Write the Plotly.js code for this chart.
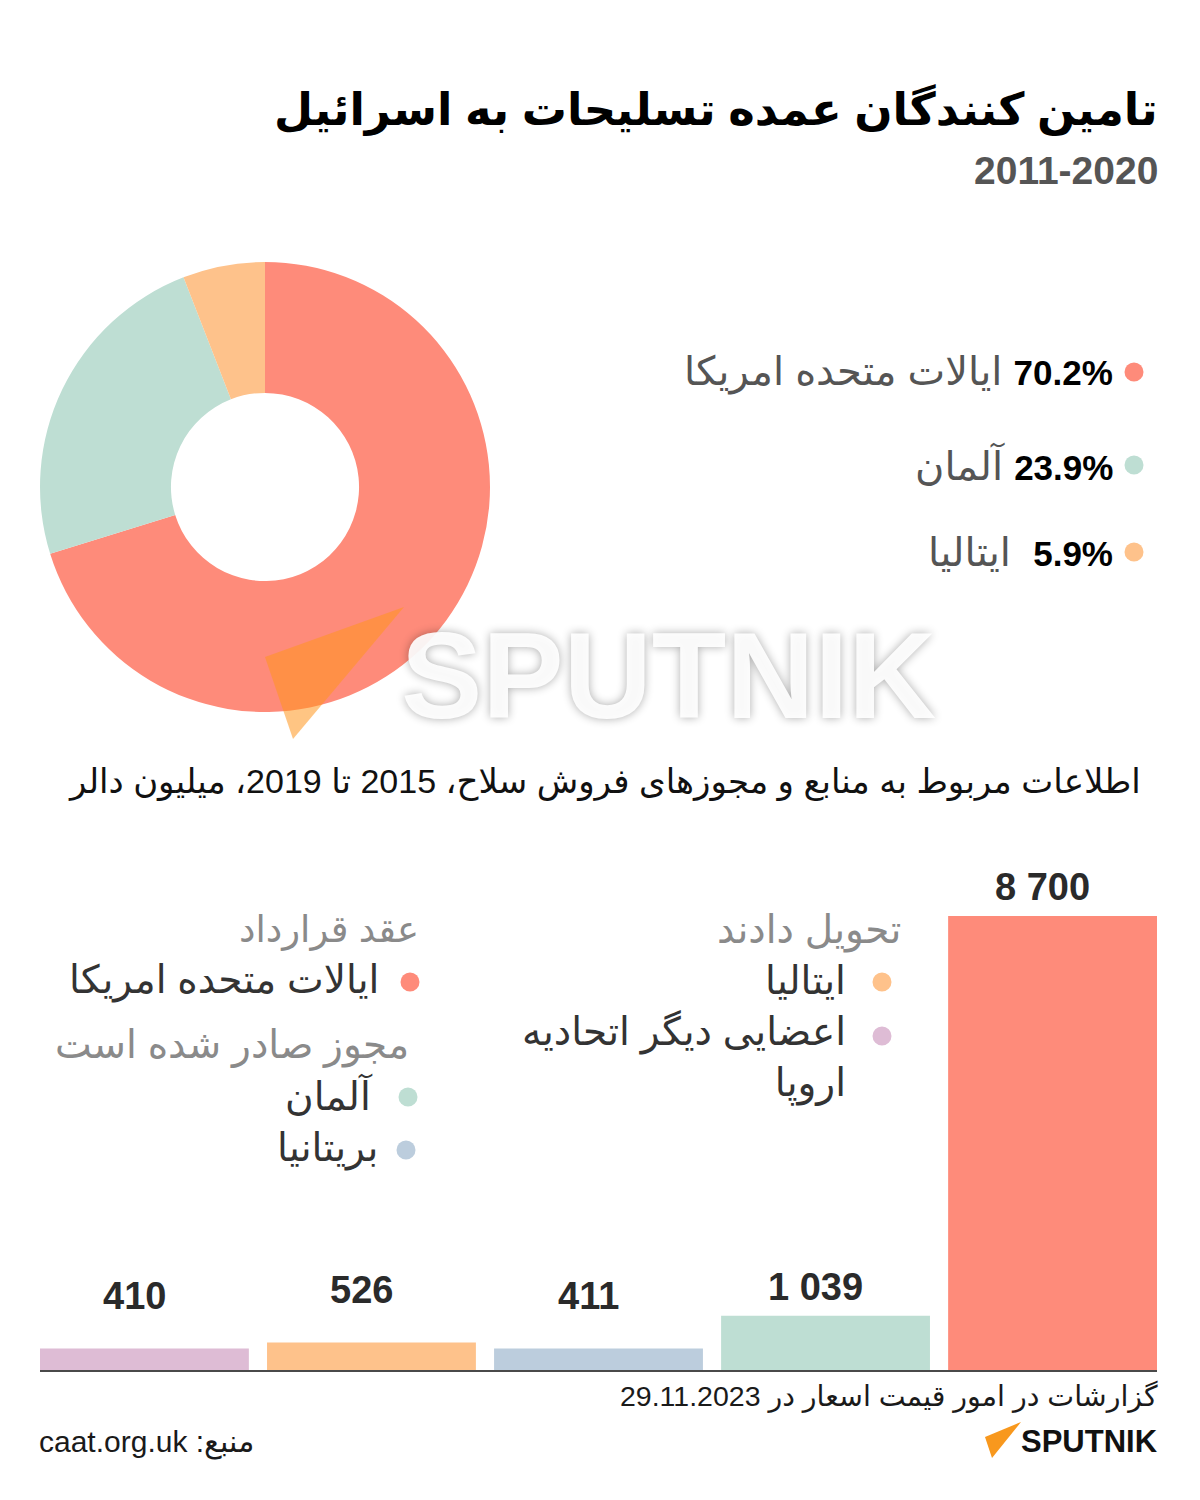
<!DOCTYPE html>
<html>
<head>
<meta charset="utf-8">
<script src="https://cdn.plot.ly/plotly-3.0.1.min.js"></script>
<style>
  html, body { margin: 0; padding: 0; background: #ffffff; }
  #chart { width: 1200px; height: 1500px; }
</style>
</head>
<body>
<div id="chart"></div>
<script>
// ---------- DATA ----------
const pieLabels = ["ایالات متحده امریکا", "آلمان", "ایتالیا"];
const pieShares = [70.2, 23.9, 5.9];
const pieColors = ["#FE8B7A", "#BEDED3", "#FEC28B"];

const barCategories = ["اعضایی دیگر اتحادیه اروپا", "ایتالیا", "بریتانیا", "آلمان", "ایالات متحده امریکا"];
const barValues = [410, 526, 411, 1039, 8700];
const barColors = ["#DEBCD5", "#FEC28B", "#BCCDDD", "#BEDED3", "#FE8B7A"];

const titleText = "تامین کنندگان عمده تسلیحات به اسرائیل";
const subtitleText = "2011-2020";
const barTitleText = "اطلاعات مربوط به منابع و مجوزهای فروش سلاح، 2015 تا 2019، میلیون دالر";
const dateText = "گزارشات در امور قیمت اسعار در 29.11.2023";
const sourceText = "\u202Bمنبع: caat.org.uk\u202C";

// ---------- helpers ----------
const W = 1200, H = 1500;
const px = x => x / W;
const py = y => 1 - y / H;
const fmt = v => String(v).replace(/\B(?=(\d{3})+(?!\d))/g, " ");

const PERSIAN = "'Liberation Sans', 'DejaVu Sans', sans-serif";
const NUM = "'Liberation Sans', Arial, sans-serif";

const annotations = [];
const shapes = [];

function txt(text, x, y, opts) {
  annotations.push(Object.assign({
    text: text, xref: "paper", yref: "paper", x: px(x), y: py(y),
    showarrow: false, xanchor: "right", yanchor: "middle", align: "right",
    font: { family: PERSIAN, size: 30, color: "#333" }
  }, opts || {}));
}
function dot(cx, cy, r, color) {
  shapes.push({ type: "circle", xref: "paper", yref: "paper",
    x0: px(cx - r), x1: px(cx + r), y0: py(cy + r), y1: py(cy - r),
    fillcolor: color, line: { width: 0 }, layer: "above" });
}

// Title block
txt("<b>" + titleText + "</b>", 1160, 110, { font: { family: PERSIAN, size: 45, color: "#000" } });
txt("<b>" + subtitleText + "</b>", 1160, 171, { font: { family: "'Liberation Sans Narrow', 'Liberation Sans', sans-serif", size: 39, color: "#555" } });

// Donut legend
const legendRows = [372, 465, 552];
pieLabels.forEach((lab, i) => {
  dot(1134, legendRows[i], 9.5, pieColors[i]);
  const pct = pieShares[i].toFixed(1) + "%";
  const gap = i === 2 ? "\u00A0\u00A0" : " ";
  txt(lab + gap + "\u200E<b><span style='color:#000;font-size:35px'>" + pct + "</span></b>", 1115, legendRows[i],
      { font: { family: PERSIAN, size: 40, color: "#555" } });
});

// Bar section title
txt(barTitleText, 1143, 782, { font: { family: PERSIAN, size: 34, color: "#111" } });

// Bar legend (right group: delivered)
const LEG = 39;
txt("تحویل دادند", 903, 930, { font: { family: PERSIAN, size: LEG, color: "#8A8A8A" } });
dot(882, 982, 9.5, barColors[1]);
txt(barCategories[1], 848, 980, { font: { family: PERSIAN, size: LEG, color: "#333" } });
dot(882, 1036, 9.5, barColors[0]);
txt("اعضایی دیگر اتحادیه<br>اروپا", 848, 1058, { font: { family: PERSIAN, size: LEG, color: "#333" } });

// Bar legend (left group)
txt("عقد قرارداد", 421, 930, { font: { family: PERSIAN, size: 37, color: "#8A8A8A" } });
dot(410, 982, 9.5, barColors[4]);
txt(barCategories[4], 381, 980, { font: { family: PERSIAN, size: LEG, color: "#333" } });
txt("مجوز صادر شده است", 411, 1045, { font: { family: PERSIAN, size: LEG, color: "#8A8A8A" } });
dot(408, 1097, 9.5, barColors[3]);
txt(barCategories[3], 375, 1095, { font: { family: PERSIAN, size: LEG, color: "#333" } });
dot(406, 1150, 9.5, barColors[2]);
txt(barCategories[2], 380, 1148, { font: { family: PERSIAN, size: LEG, color: "#333" } });

// Bar value labels (from data)
barCategories.forEach((c, i) => {
  annotations.push({
    text: "<b>" + fmt(barValues[i]) + "</b>", xref: "x", yref: "y",
    x: c, y: barValues[i], xanchor: "center", yanchor: "bottom",
    xshift: -10, yshift: barValues[i] < 1000 ? 30 : 6, showarrow: false,
    font: { family: NUM, size: 38, color: "#2a2a2a" }
  });
});

// Footer
txt(dateText, 1160, 1396, { font: { family: PERSIAN, size: 28.5, color: "#1a1a1a" } });
txt(sourceText, 37, 1442, { xanchor: "left", align: "left", font: { family: PERSIAN, size: 30, color: "#1a1a1a" } });

// Footer logo
shapes.push({ type: "path", xref: "paper", yref: "paper",
  path: `M ${px(985)} ${py(1437)} L ${px(1021)} ${py(1422)} L ${px(992)} ${py(1458)} Z`,
  fillcolor: "#F8981D", line: { width: 0 }, layer: "above" });
txt("<b>SPUTNIK</b>", 1160, 1441, { font: { family: NUM, size: 31, color: "#111" } });

// Watermark
shapes.push({ type: "path", xref: "paper", yref: "paper",
  path: `M ${px(265)} ${py(657)} L ${px(404)} ${py(607)} L ${px(293)} ${py(739)} Z`,
  fillcolor: "rgba(255,150,30,0.55)", line: { width: 0 }, layer: "above" });
annotations.push({
  text: "<b>SPUTNIK</b>", xref: "paper", yref: "paper", x: px(668), y: py(676),
  xanchor: "center", yanchor: "middle", showarrow: false,
  font: { family: NUM, size: 122, color: "rgba(255,255,255,0.92)", shadow: "0px 0px 10px rgba(0,0,0,0.35)" }
});

// ---------- TRACES ----------
const pie = {
  type: "pie", labels: pieLabels, values: pieShares,
  marker: { colors: pieColors, line: { width: 0 } },
  hole: 0.418, sort: false, direction: "clockwise", rotation: 0,
  textinfo: "none", hoverinfo: "none", showlegend: false,
  domain: { x: [px(40), px(490)], y: [py(712), py(262)] }
};

const bars = {
  type: "bar", x: barCategories, y: barValues,
  marker: { color: barColors, line: { width: 0 } },
  hoverinfo: "none", showlegend: false, textposition: "none"
};

const layout = {
  width: W, height: H,
  margin: { l: 0, r: 0, t: 0, b: 0 },
  paper_bgcolor: "#ffffff", plot_bgcolor: "rgba(0,0,0,0)",
  showlegend: false,
  bargap: 0.08,
  xaxis: {
    domain: [px(40), px(1157)], range: [-0.46, 4.46], type: "category",
    showline: true, linecolor: "#4a4a4a", linewidth: 2,
    showticklabels: false, showgrid: false, zeroline: false, ticks: "", fixedrange: true
  },
  yaxis: {
    domain: [py(1370), py(870)], range: [0, 9580],
    visible: false, showgrid: false, zeroline: false, fixedrange: true
  },
  annotations: annotations,
  shapes: shapes
};

Plotly.newPlot("chart", [pie, bars], layout, { displayModeBar: false, staticPlot: true });
</script>
</body>
</html>
